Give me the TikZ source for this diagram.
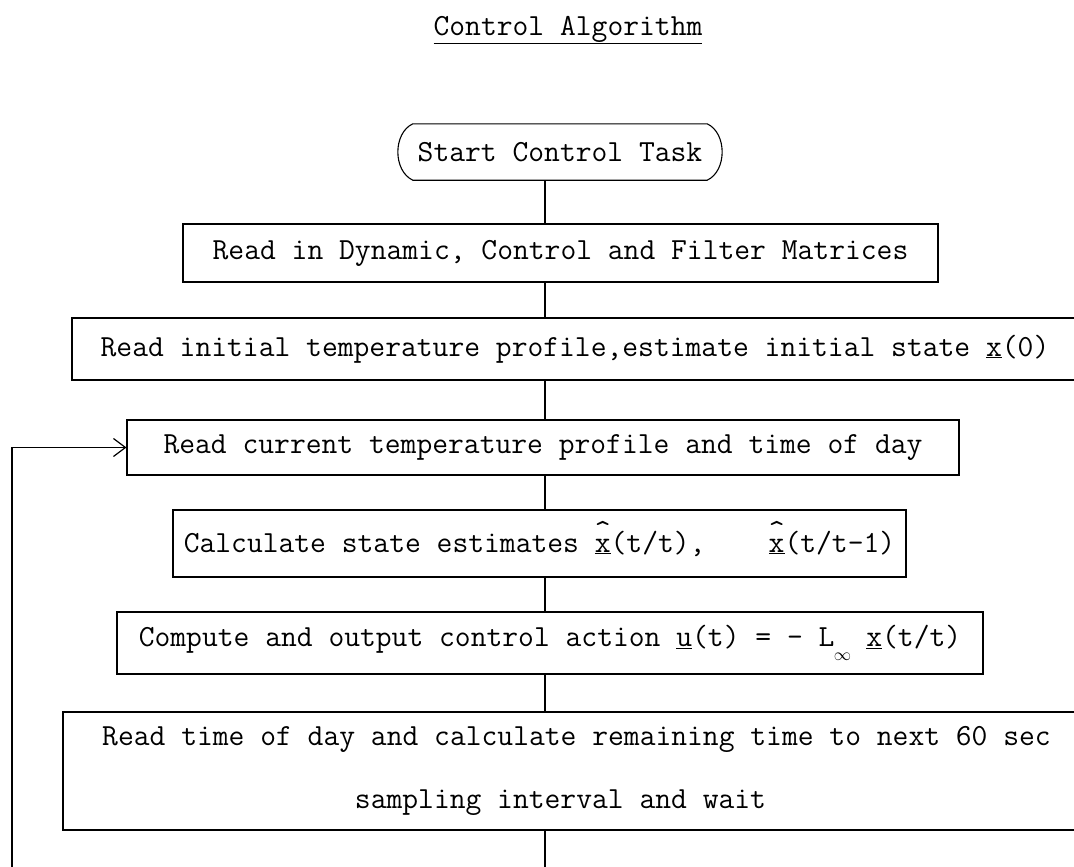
\documentclass[tikz,border=0pt]{standalone}
\usepackage{fontspec}
\usetikzlibrary{arrows.meta}
\newcommand{\ulx}{\underline{x}}
\newcommand{\ulu}{\underline{u}}
\newcommand{\hux}{\ooalign{\underline{x}\cr\hidewidth\raisebox{0.38em}{\char94}\hidewidth\cr}}
\newcommand{\linf}{L\makebox[0.525em]{\raisebox{-0.45em}{\fontsize{18}{18}\selectfont$\infty$}}}
\begin{document}
\begin{tikzpicture}[x=1pt,y=-1pt,
  every node/.style={font=\ttfamily\fontsize{30.7}{63}\selectfont, inner sep=0pt},
  box/.style={draw=black, line width=1.1pt},
  conn/.style={draw=black, line width=1.1pt},
  fbline/.style={draw=black, line width=1.6pt}]
\useasboundingbox (0,0) rectangle (1074,867);
% title
\node (title) at (568,30) {\underline{Control Algorithm}};
% start terminal
\node (start) [minimum width=294pt, minimum height=56pt] at (560,152) {Start Control Task};
\draw[line width=1.1pt] (start.north west) -- (start.north east)
  to[bend left=65] (start.south east) -- (start.south west)
  to[bend left=65] (start.north west);
% boxes
\node (b1) [box, minimum width=755pt, minimum height=58pt] at (560.5,253)
  {Read in Dynamic, Control and Filter Matrices};
\node (b2) [box, minimum width=1018pt, minimum height=62pt] at (581,349)
  {Read initial temperature profile,estimate initial state \ulx(0)\hspace*{12pt}};
\node (b3) [box, minimum width=832pt, minimum height=55pt] at (543,447.5)
  {Read current temperature profile and time of day};
\node (b4) [box, minimum width=733pt, minimum height=67pt] at (539.5,543.5)
  {Calculate state estimates \hux(t/t),\ \ \ \ \hux(t/t-1)};
\node (b5) [box, minimum width=866pt, minimum height=62pt] at (550,643)
  {Compute and output control action \ulu(t) = - \linf\ \ulx(t/t)};
\node (b6) [box, minimum width=1027pt, minimum height=118pt, align=center] at (576.5,771)
  {Read time of day and calculate remaining time to next 60 sec\\
   sampling interval and wait\hspace*{32pt}};
% connectors
\coordinate (cx) at (545,0);
\coordinate (fb) at (12,867);
\coordinate (tail) at (545,867);
\draw[conn] (start.south -| cx) -- (b1.north -| cx);
\draw[conn] (b1.south -| cx) -- (b2.north -| cx);
\draw[conn] (b2.south -| cx) -- (b3.north -| cx);
\draw[conn] (b3.south -| cx) -- (b4.north -| cx);
\draw[conn] (b4.south -| cx) -- (b5.north -| cx);
\draw[conn] (b5.south -| cx) -- (b6.north -| cx);
\draw[conn] (b6.south -| cx) -- (tail);
\draw[fbline, -{Straight Barb[length=12pt,width=18pt,line width=1.2pt]}] (fb) |- (b3.west);
\end{tikzpicture}
\end{document}
